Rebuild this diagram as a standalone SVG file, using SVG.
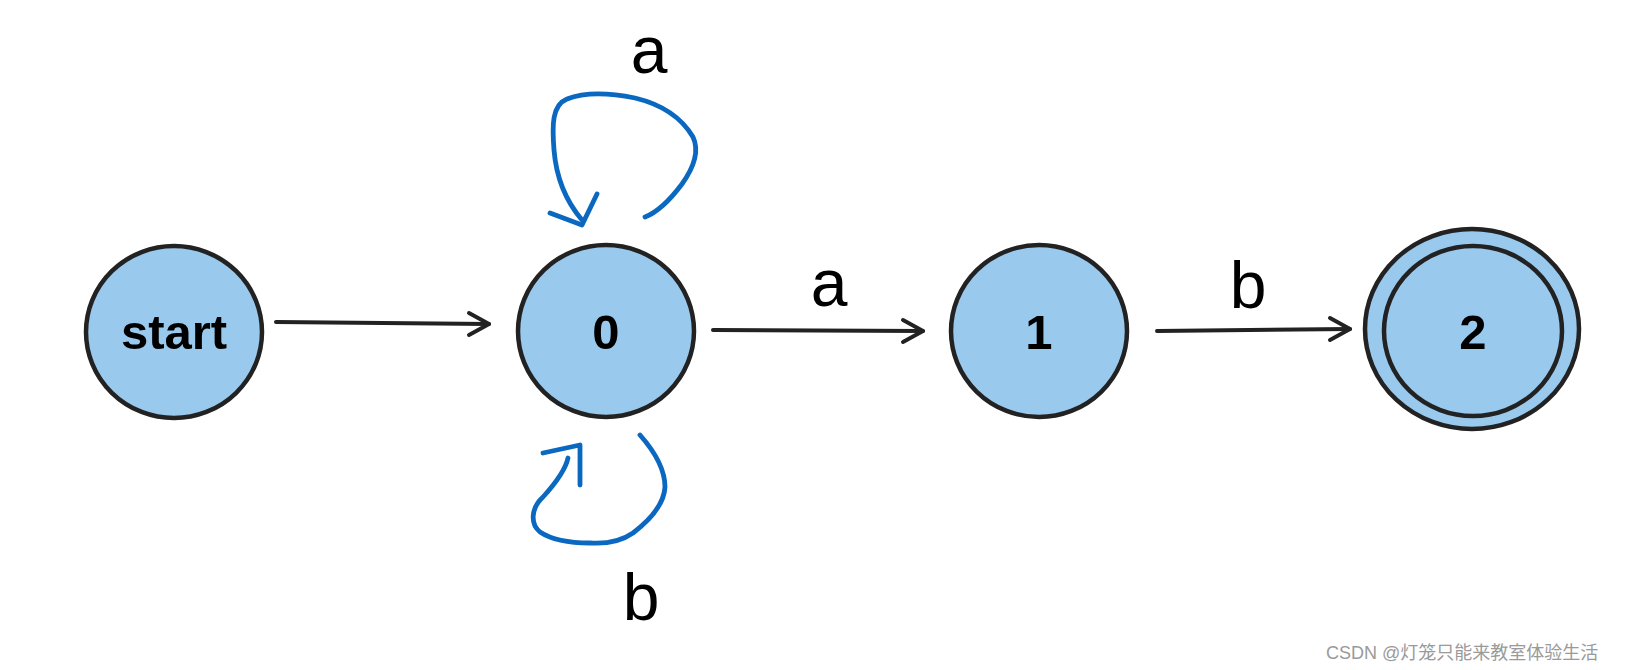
<svg xmlns="http://www.w3.org/2000/svg" width="1631" height="670" viewBox="0 0 1631 670">
<style>
.node{fill:#9ac9ee;stroke:#222;stroke-width:4.5}
.nl{font-family:"Liberation Sans",Arial,sans-serif;font-weight:bold;font-size:49px;fill:#000;text-anchor:middle}
.el{font-family:"Liberation Sans",Arial,sans-serif;font-size:66px;fill:#000;text-anchor:middle}
.edge{fill:none;stroke:#222;stroke-width:4;stroke-linecap:round;stroke-linejoin:round}
.loop{fill:none;stroke:#0b68c0;stroke-width:4.8;stroke-linecap:round;stroke-linejoin:round}
.wm{font-family:"Liberation Sans","Noto Sans CJK SC",sans-serif;font-size:18px;fill:#9a9a9a}
</style>
<rect width="1631" height="670" fill="#fff"/>
<g id="connectors">
<g id="e-start-0">
<path class="edge" d="M276 322 L489 324"/>
<path class="edge" d="M469 313 L489 324 L469 335"/>
</g>
<g id="e-0-1">
<path class="edge" d="M713 330 L923 331"/>
<path class="edge" d="M903 320 L923 331 L903 342"/>
<text class="el" x="829" y="306">a</text>
</g>
<g id="e-1-2">
<path class="edge" d="M1157 331 L1350 329"/>
<path class="edge" d="M1330 318 L1350 329 L1330 340"/>
<text class="el" x="1248" y="308">b</text>
</g>
<g id="loop-a">
<path class="loop" d="M582 220 C565 200 556 175 554 150 C552 125 552 105 567 99 C585 92 610 93 635 98 C660 104 680 115 693 137 C700 152 692 170 682 184 C670 200 658 212 645 217"/>
<path class="loop" d="M550 213 L582 225 L597 194"/>
<text class="el" x="649" y="73">a</text>
</g>
<g id="loop-b">
<path class="loop" d="M640 435 C655 452 665 470 665 487 C664 505 650 520 633 533 C620 542 605 544 590 543 C572 543 552 540 540 532 C530 524 531 508 543 497 C553 486 565 472 568 458"/>
<path class="loop" d="M543 453 L580 445 L580 485"/>
<text class="el" x="641" y="620">b</text>
</g>
</g>
<g id="node-start">
<ellipse class="node" cx="174" cy="332" rx="88" ry="86"/>
<text class="nl" x="174" y="349">start</text>
</g>
<g id="node-0">
<ellipse class="node" cx="606" cy="331" rx="88" ry="86"/>
<text class="nl" x="606" y="349">0</text>
</g>
<g id="node-1">
<ellipse class="node" cx="1039" cy="331" rx="88" ry="86"/>
<text class="nl" x="1039" y="349">1</text>
</g>
<g id="node-2">
<ellipse class="node" cx="1472" cy="329" rx="107" ry="100"/>
<ellipse class="node" cx="1473" cy="331" rx="89" ry="85"/>
<text class="nl" x="1473" y="349">2</text>
</g>
<text class="wm" x="1326" y="659">CSDN @灯笼只能来教室体验生活</text>
</svg>
